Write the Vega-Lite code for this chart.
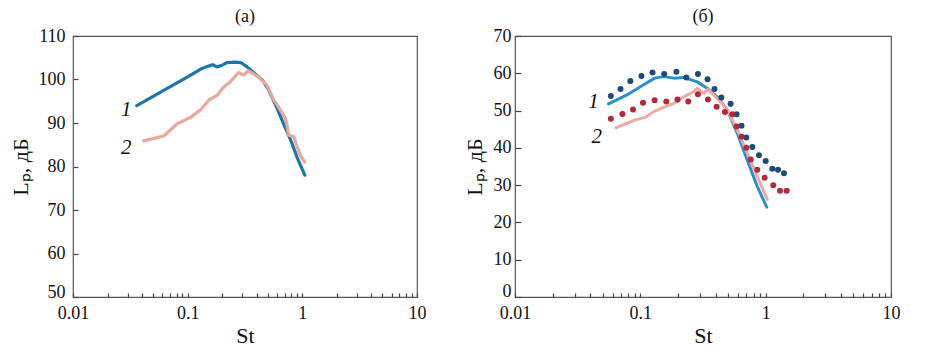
{
  "$schema": "https://vega.github.io/schema/vega-lite/v6.json",
  "padding": {"left": 8, "top": 7, "right": 5, "bottom": 2},
  "spacing": 35,
  "background": "white",
  "config": {
    "font": "Liberation Serif",
    "view": {"stroke": "#555", "strokeWidth": 1.2},
    "axis": {
      "grid": false,
      "domain": false,
      "ticks": true,
      "tickColor": "#444",
      "tickWidth": 1.2,
      "labelFont": "Liberation Serif",
      "labelFontSize": 18,
      "labelColor": "#111",
      "labelOverlap": false,
      "labelFlush": false,
      "titleFont": "Liberation Serif",
      "titleFontSize": 22,
      "titleFontWeight": "normal",
      "titleColor": "#111"
    },
    "title": {"font": "Liberation Serif", "fontSize": 18, "fontWeight": "normal", "color": "#111", "offset": 1}
  },
  "datasets": {
    "leftLines": [
      {"St": 0.036, "L": 94.0, "s": "1"},
      {"St": 0.05, "L": 96.1, "s": "1"},
      {"St": 0.07, "L": 98.3, "s": "1"},
      {"St": 0.1, "L": 100.6, "s": "1"},
      {"St": 0.13, "L": 102.4, "s": "1"},
      {"St": 0.145, "L": 102.9, "s": "1"},
      {"St": 0.165, "L": 103.4, "s": "1"},
      {"St": 0.18, "L": 102.9, "s": "1"},
      {"St": 0.2, "L": 103.3, "s": "1"},
      {"St": 0.22, "L": 103.9, "s": "1"},
      {"St": 0.26, "L": 104.0, "s": "1"},
      {"St": 0.29, "L": 103.9, "s": "1"},
      {"St": 0.33, "L": 102.9, "s": "1"},
      {"St": 0.4, "L": 101.0, "s": "1"},
      {"St": 0.45, "L": 99.8, "s": "1"},
      {"St": 0.5, "L": 98.0, "s": "1"},
      {"St": 0.6, "L": 93.5, "s": "1"},
      {"St": 0.7, "L": 89.3, "s": "1"},
      {"St": 0.8, "L": 85.8, "s": "1"},
      {"St": 0.9, "L": 82.1, "s": "1"},
      {"St": 1.05, "L": 78.0, "s": "1"},
      {"St": 0.0413, "L": 85.9, "s": "2"},
      {"St": 0.0618, "L": 87.0, "s": "2"},
      {"St": 0.0808, "L": 89.8, "s": "2"},
      {"St": 0.106, "L": 91.3, "s": "2"},
      {"St": 0.129, "L": 93.0, "s": "2"},
      {"St": 0.153, "L": 95.3, "s": "2"},
      {"St": 0.181, "L": 96.4, "s": "2"},
      {"St": 0.206, "L": 98.3, "s": "2"},
      {"St": 0.236, "L": 99.5, "s": "2"},
      {"St": 0.278, "L": 101.6, "s": "2"},
      {"St": 0.308, "L": 101.0, "s": "2"},
      {"St": 0.34, "L": 102.0, "s": "2"},
      {"St": 0.403, "L": 100.8, "s": "2"},
      {"St": 0.492, "L": 98.7, "s": "2"},
      {"St": 0.562, "L": 95.3, "s": "2"},
      {"St": 0.6, "L": 94.3, "s": "2"},
      {"St": 0.711, "L": 91.1, "s": "2"},
      {"St": 0.735, "L": 89.5, "s": "2"},
      {"St": 0.76, "L": 87.2, "s": "2"},
      {"St": 0.84, "L": 86.9, "s": "2"},
      {"St": 0.9, "L": 84.6, "s": "2"},
      {"St": 0.96, "L": 82.6, "s": "2"},
      {"St": 1.047, "L": 81.0, "s": "2"}
    ],
    "leftLabels": [
      {"St": 0.0292, "L": 93.0, "t": "1"},
      {"St": 0.0292, "L": 84.2, "t": "2"}
    ],
    "rightLines": [
      {"St": 0.0558, "L": 51.8, "s": "1"},
      {"St": 0.0782, "L": 54.2, "s": "1"},
      {"St": 0.1, "L": 56.4, "s": "1"},
      {"St": 0.13, "L": 58.7, "s": "1"},
      {"St": 0.154, "L": 59.1, "s": "1"},
      {"St": 0.185, "L": 58.7, "s": "1"},
      {"St": 0.222, "L": 58.9, "s": "1"},
      {"St": 0.284, "L": 57.7, "s": "1"},
      {"St": 0.341, "L": 56.0, "s": "1"},
      {"St": 0.41, "L": 53.7, "s": "1"},
      {"St": 0.494, "L": 50.2, "s": "1"},
      {"St": 0.594, "L": 43.9, "s": "1"},
      {"St": 0.714, "L": 36.7, "s": "1"},
      {"St": 0.858, "L": 29.6, "s": "1"},
      {"St": 1.02, "L": 24.1, "s": "1"},
      {"St": 0.0643, "L": 45.4, "s": "2"},
      {"St": 0.0782, "L": 46.6, "s": "2"},
      {"St": 0.0912, "L": 47.5, "s": "2"},
      {"St": 0.11, "L": 48.2, "s": "2"},
      {"St": 0.128, "L": 49.7, "s": "2"},
      {"St": 0.154, "L": 50.9, "s": "2"},
      {"St": 0.185, "L": 51.9, "s": "2"},
      {"St": 0.222, "L": 53.7, "s": "2"},
      {"St": 0.267, "L": 55.1, "s": "2"},
      {"St": 0.284, "L": 56.0, "s": "2"},
      {"St": 0.321, "L": 54.6, "s": "2"},
      {"St": 0.346, "L": 55.7, "s": "2"},
      {"St": 0.41, "L": 53.3, "s": "2"},
      {"St": 0.494, "L": 50.2, "s": "2"},
      {"St": 0.594, "L": 44.8, "s": "2"},
      {"St": 0.714, "L": 38.5, "s": "2"},
      {"St": 0.858, "L": 32.3, "s": "2"},
      {"St": 1.03, "L": 26.2, "s": "2"}
    ],
    "rightDots": [
      {"St": 0.0582, "L": 53.9, "s": "1"},
      {"St": 0.0695, "L": 55.8, "s": "1"},
      {"St": 0.0832, "L": 57.9, "s": "1"},
      {"St": 0.102, "L": 59.3, "s": "1"},
      {"St": 0.125, "L": 60.2, "s": "1"},
      {"St": 0.155, "L": 59.8, "s": "1"},
      {"St": 0.194, "L": 60.4, "s": "1"},
      {"St": 0.233, "L": 58.9, "s": "1"},
      {"St": 0.288, "L": 59.8, "s": "1"},
      {"St": 0.344, "L": 58.4, "s": "1"},
      {"St": 0.391, "L": 55.8, "s": "1"},
      {"St": 0.443, "L": 53.5, "s": "1"},
      {"St": 0.525, "L": 51.8, "s": "1"},
      {"St": 0.586, "L": 49.0, "s": "1"},
      {"St": 0.642, "L": 45.9, "s": "1"},
      {"St": 0.701, "L": 42.8, "s": "1"},
      {"St": 0.783, "L": 40.2, "s": "1"},
      {"St": 0.884, "L": 38.0, "s": "1"},
      {"St": 1.0, "L": 36.5, "s": "1"},
      {"St": 1.13, "L": 34.4, "s": "1"},
      {"St": 1.255, "L": 34.1, "s": "1"},
      {"St": 1.4, "L": 33.2, "s": "1"},
      {"St": 0.0582, "L": 47.8, "s": "2"},
      {"St": 0.0719, "L": 49.1, "s": "2"},
      {"St": 0.0874, "L": 50.3, "s": "2"},
      {"St": 0.105, "L": 52.1, "s": "2"},
      {"St": 0.13, "L": 52.8, "s": "2"},
      {"St": 0.161, "L": 52.4, "s": "2"},
      {"St": 0.198, "L": 53.0, "s": "2"},
      {"St": 0.241, "L": 52.4, "s": "2"},
      {"St": 0.288, "L": 54.4, "s": "2"},
      {"St": 0.346, "L": 53.0, "s": "2"},
      {"St": 0.406, "L": 51.0, "s": "2"},
      {"St": 0.473, "L": 49.6, "s": "2"},
      {"St": 0.542, "L": 49.0, "s": "2"},
      {"St": 0.586, "L": 45.7, "s": "2"},
      {"St": 0.642, "L": 43.0, "s": "2"},
      {"St": 0.701, "L": 40.0, "s": "2"},
      {"St": 0.759, "L": 36.9, "s": "2"},
      {"St": 0.858, "L": 34.1, "s": "2"},
      {"St": 0.98, "L": 32.0, "s": "2"},
      {"St": 1.15, "L": 30.0, "s": "2"},
      {"St": 1.3, "L": 28.5, "s": "2"},
      {"St": 1.47, "L": 28.5, "s": "2"}
    ],
    "rightLabels": [
      {"St": 0.0423, "L": 52.4, "t": "1"},
      {"St": 0.0449, "L": 43.0, "t": "2"}
    ]
  },
  "hconcat": [
    {
      "width": 344,
      "height": 261,
      "title": {"text": "(а)"},
      "encoding": {
        "x": {
          "field": "St", "type": "quantitative",
          "scale": {"type": "log", "domain": [0.01, 10], "nice": false},
          "axis": {
            "title": "St",
            "values": [0.01, 0.02, 0.03, 0.04, 0.05, 0.06, 0.07, 0.08, 0.09, 0.1, 0.2, 0.3, 0.4, 0.5, 0.6, 0.7, 0.8, 0.9, 1, 2, 3, 4, 5, 6, 7, 8, 9, 10],
            "labelExpr": "datum.value == 0.01 ? '0.01' : datum.value == 0.1 ? '0.1' : datum.value == 1 ? '1' : datum.value == 10 ? '10' : ''",
            "labelOverlap": false,
            "offset": -4,
            "tickSize": 4,
            "labelPadding": 7,
            "titlePadding": 3
          }
        },
        "y": {
          "field": "L", "type": "quantitative",
          "scale": {"domain": [50, 110], "nice": false, "zero": false},
          "axis": {
            "title": "Lₚ, дБ",
            "values": [50, 60, 70, 80, 90, 100, 110],
            "labelOverlap": false,
            "labelOffset": {"condition": {"test": "datum.value == 50", "value": -5}, "value": 0},
            "offset": -5,
            "tickSize": 5,
            "labelPadding": 8,
            "titlePadding": 6
          }
        }
      },
      "layer": [
        {
          "data": {"name": "leftLines"},
          "mark": {"type": "line", "strokeWidth": 3.2, "strokeCap": "round", "strokeJoin": "round"},
          "encoding": {
            "color": {
              "field": "s", "type": "nominal",
              "scale": {"domain": ["1", "2"], "range": ["#1b76ab", "#eba69c"]},
              "legend": null
            },
            "order": {"field": "St", "type": "quantitative"}
          }
        },
        {
          "data": {"name": "leftLabels"},
          "mark": {"type": "text", "font": "Liberation Serif", "fontStyle": "italic", "fontSize": 21, "color": "#111", "align": "center", "baseline": "middle"},
          "encoding": {
            "text": {"field": "t"}
          }
        }
      ]
    },
    {
      "width": 376,
      "height": 261,
      "title": {"text": "(б)"},
      "encoding": {
        "x": {
          "field": "St", "type": "quantitative",
          "scale": {"type": "log", "domain": [0.01, 10], "nice": false},
          "axis": {
            "title": "St",
            "values": [0.01, 0.02, 0.03, 0.04, 0.05, 0.06, 0.07, 0.08, 0.09, 0.1, 0.2, 0.3, 0.4, 0.5, 0.6, 0.7, 0.8, 0.9, 1, 2, 3, 4, 5, 6, 7, 8, 9, 10],
            "labelExpr": "datum.value == 0.01 ? '0.01' : datum.value == 0.1 ? '0.1' : datum.value == 1 ? '1' : datum.value == 10 ? '10' : ''",
            "labelOverlap": false,
            "offset": -4,
            "tickSize": 4,
            "labelPadding": 7,
            "titlePadding": 3
          }
        },
        "y": {
          "field": "L", "type": "quantitative",
          "scale": {"domain": [0, 70], "nice": false, "zero": true},
          "axis": {
            "title": "Lₚ, дБ",
            "values": [0, 10, 20, 30, 40, 50, 60, 70],
            "labelOverlap": false,
            "labelOffset": {"condition": {"test": "datum.value == 0", "value": -6}, "value": 0},
            "offset": -6,
            "tickSize": 6,
            "labelPadding": 4,
            "titlePadding": 7
          }
        }
      },
      "layer": [
        {
          "data": {"name": "rightLines"},
          "mark": {"type": "line", "strokeWidth": 3, "strokeCap": "round", "strokeJoin": "round"},
          "encoding": {
            "color": {
              "field": "s", "type": "nominal",
              "scale": {"domain": ["1", "2"], "range": ["#2a90cc", "#eeaaa0"]},
              "legend": null
            },
            "order": {"field": "St", "type": "quantitative"}
          }
        },
        {
          "data": {"name": "rightDots"},
          "mark": {"type": "circle", "size": 36, "opacity": 1},
          "encoding": {
            "fill": {
              "field": "s", "type": "nominal",
              "scale": {"domain": ["1", "2"], "range": ["#1d4b7c", "#b3283a"]},
              "legend": null
            }
          }
        },
        {
          "data": {"name": "rightLabels"},
          "mark": {"type": "text", "font": "Liberation Serif", "fontStyle": "italic", "fontSize": 21, "color": "#111", "align": "center", "baseline": "middle"},
          "encoding": {
            "text": {"field": "t"}
          }
        }
      ],
      "resolve": {"scale": {"color": "independent"}}
    }
  ]
}
